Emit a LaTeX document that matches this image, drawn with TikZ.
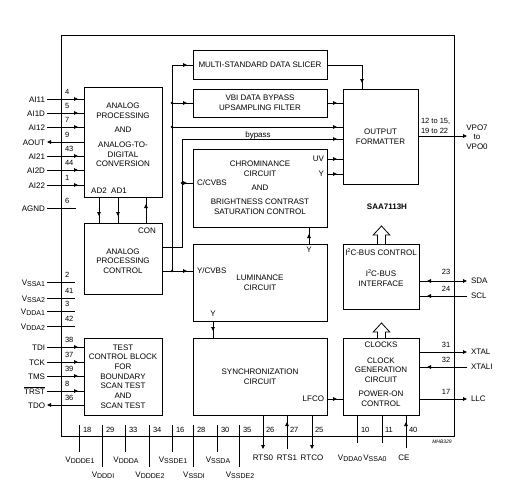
\documentclass[tikz,border=0pt]{standalone}
\usepackage{fontspec}
\setmainfont{Liberation Sans}
\usetikzlibrary{arrows.meta,decorations.markings}
\newcommand{\Vsub}[1]{V\raisebox{-0.45ex}{\fontsize{7}{7}\selectfont #1}}
\newcommand{\Itwo}{I\raisebox{0.75ex}{\fontsize{5.5}{5.5}\selectfont 2}C}
\begin{document}
\begin{tikzpicture}[x=1pt,y=-1pt,line width=0.8pt,
  every node/.style={inner sep=0pt,outer sep=0pt,font=\fontsize{8}{9.7}\selectfont},
  box/.style={draw,line width=0.8pt,align=center},
  txt/.style={align=center},
  pinnum/.style={font=\fontsize{7.5}{7.5}\selectfont,anchor=west},
  pinlab/.style={anchor=base east},
  arr/.style={postaction={decorate,decoration={markings,mark=at position #1 with {\arrow{Triangle[length=4pt,width=3.6pt]}}}}},
  arr/.default=-6pt,
  rarr/.style={postaction={decorate,decoration={markings,mark=at position #1 with {\arrowreversed{Triangle[length=4pt,width=3.6pt]}}}}},
  endarr/.style={-{Triangle[length=4pt,width=3.6pt]}},
  jdot/.style={circle,fill,inner sep=0pt,minimum size=2.6pt},
  hollow/.style={draw,line width=0.8pt,fill=white}]
\fill[white] (0,0) rectangle (506,490);
\useasboundingbox (0,0) rectangle (506,490);

% chip outline
\node[draw,minimum width=393pt,minimum height=401pt] (chip) at (257.5,235.5) {};

% blocks
\node[box,minimum width=78pt,minimum height=110pt] (adc) at (123,142) {};
\node[box,minimum width=78pt,minimum height=71pt] (apc) at (123,258.5) {};
\node[box,minimum width=78pt,minimum height=77pt] (tcb) at (123,376.5) {TEST\\CONTROL BLOCK\\FOR\\BOUNDARY\\SCAN TEST\\AND\\SCAN TEST};
\node[box,minimum width=134pt,minimum height=29pt] (slicer) at (260,65) {MULTI-STANDARD DATA SLICER};
\node[box,minimum width=134pt,minimum height=28pt] (vbi) at (260,103) {VBI DATA BYPASS\\UPSAMPLING FILTER};
\node[box,minimum width=134pt,minimum height=78pt] (chroma) at (260,188) {};
\node[box,minimum width=134pt,minimum height=77pt] (lum) at (260,282.5) {LUMINANCE\\CIRCUIT};
\node[box,minimum width=134pt,minimum height=77pt] (sync) at (260,376.5) {SYNCHRONIZATION\\CIRCUIT};
\node[box,minimum width=75pt,minimum height=95pt] (of) at (380.5,136.5) {OUTPUT\\FORMATTER};
\node[box,minimum width=76pt,minimum height=65pt] (i2c) at (381,276.5) {};
\node[box,minimum width=76pt,minimum height=77pt] (clk) at (381,376.5) {};

% texts inside blocks
\node[txt] (adct1) at (123,111) {ANALOG\\PROCESSING};
\node[txt] (adct2) at (123,130) {AND};
\node[txt] (adct3) at (123,154.5) {ANALOG-TO-\\DIGITAL\\CONVERSION};
\node[anchor=base] (ad2) at (99,193) {AD2};
\node[anchor=base] (ad1) at (119,193) {AD1};
\node[anchor=base] (con) at (147,233) {CON};
\node[txt] (apct) at (123,261) {ANALOG\\PROCESSING\\CONTROL};
\node[txt] (cht1) at (260,169) {CHROMINANCE\\CIRCUIT};
\node[txt] (cht2) at (260,188) {AND};
\node[txt] (cht3) at (260,207) {BRIGHTNESS CONTRAST\\SATURATION CONTROL};
\node[anchor=west] (ccvbs) at (197,183) {C/CVBS};
\node[anchor=east] (uv) at (324,159) {UV};
\node[anchor=east] (chy) at (324,174) {Y};
\node[anchor=west] (ycvbs) at (197,271) {Y/CVBS};
\node (lumy1) at (309,250) {Y};
\node (lumy2) at (213,314) {Y};
\node[anchor=east] (lfco) at (324,399) {LFCO};
\node[txt] (i2ct1) at (381,252) {\Itwo-BUS CONTROL};
\node[txt] (i2ct2) at (381,278) {\Itwo-BUS\\INTERFACE};
\node (clks) at (381,345) {CLOCKS};
\node[txt] (clkt1) at (381,370) {CLOCK\\GENERATION\\CIRCUIT};
\node[txt] (clkt2) at (381,399) {POWER-ON\\CONTROL};
\node[font=\fontsize{8}{8}\selectfont\bfseries] (name) at (387,207) {SAA7113H};
\node[font=\fontsize{5}{5}\selectfont\itshape] (mhb) at (442,442) {MHB329};

% hollow arrows
\draw[hollow] (377.5,244) -- (377.5,235) -- (373.2,235) -- (381.5,226) -- (389.8,235) -- (385.5,235) -- (385.5,244);
\draw[hollow] (377.5,338) -- (377.5,332) -- (373.2,332) -- (381.5,323) -- (389.8,332) -- (385.5,332) -- (385.5,338);

% internal connections
\coordinate (ad2a) at (99,197);
\coordinate (ad1a) at (118,197);
\coordinate (cona) at (146,223);
\draw[arr=-7pt] (ad2a) -- (ad2a |- apc.north);
\draw[arr=-7pt] (ad1a) -- (ad1a |- apc.north);
\draw[arr=-7pt] (cona) -- (cona |- adc.south);

\coordinate (bp0) at (182,247);
\coordinate (bp1) at (182,139);
\coordinate (cj) at (182,183);
\draw[arr] (apc.east |- bp0) -- (bp0) -- (bp1) -- (bp1 -| of.west);
\node[anchor=base] (bypass) at (258,137) {bypass};
\draw[arr] (cj) -- (cj -| chroma.west);
\node[jdot] (cjd) at (cj) {};

\coordinate (lj) at (172,271);
\coordinate (vt) at (172,65);
\coordinate (vb) at (172,103);
\coordinate (dj) at (172,127);
\draw[arr] (apc.east |- lj) -- (lj -| lum.west);
\draw (lj) -- (vt);
\draw[arr] (vt) -- (vt -| slicer.west);
\draw[arr] (vb) -- (vbi.west);
\draw[arr] (dj) -- (dj -| of.west);
\node[jdot] (ljd) at (lj) {};
\node[jdot] (vbd) at (vb) {};
\node[jdot] (djd) at (dj) {};

\coordinate (ofin) at (362,89);
\draw[arr] (slicer.east) -| (ofin);
\draw[arr] (vbi.east) -- (vbi.east -| of.west);
\coordinate (uvc) at (327,159);
\coordinate (yc) at (327,174);
\draw[arr] (uvc) -- (uvc -| of.west);
\draw[arr] (yc) -- (yc -| of.west);

\coordinate (ly1) at (309,244);
\coordinate (ly2) at (213,321);
\draw[arr=-7pt] (ly1) -- (ly1 |- chroma.south);
\draw[arr=-7pt] (ly2) -- (ly2 |- sync.north);
\coordinate (lfc) at (327,399);
\draw[arr] (lfc) -- (lfc -| clk.west);

% left pins, ADC
\foreach \n/\y/\p in {AI11/99/4,AI1D/113/5,AI12/127/7,AI21/156/43,AI2D/170/44,AI22/185/1}{
  \node[pinlab] (l\n) at (45,\y+3) {\n};
  \node[pinnum] (n\n) at (65,\y-7) {\p};
  \coordinate (p\n) at (47,\y);
  \draw[arr] (p\n) -- (p\n -| adc.west);
}
\node[pinlab] (lAOUT) at (45,145) {AOUT};
\node[pinnum] (nAOUT) at (65,135) {9};
\coordinate (pAOUT) at (47,142);
\draw[endarr] (pAOUT -| adc.west) -- (pAOUT);
\node[pinlab] (lAGND) at (45,211) {AGND};
\node[pinnum] (nAGND) at (65,201) {6};
\coordinate (pAGND) at (47,208);
\coordinate (qAGND) at (76,208);
\draw (pAGND) -- (qAGND);

% left pins, supplies
\foreach \n/\y/\p in {SSA1/282/2,SSA2/298/41,DDA1/311/3,DDA2/326/42}{
  \node[pinlab] (l\n) at (45,\y+3) {\Vsub{\n}};
  \node[pinnum] (n\n) at (65,\y-7) {\p};
  \coordinate (p\n) at (47,\y);
  \coordinate (q\n) at (75,\y);
  \draw (p\n) -- (q\n);
}

% left pins, test
\foreach \n/\y/\p in {TDI/347/38,TCK/362/37,TMS/376/39}{
  \node[pinlab] (l\n) at (45,\y+3) {\n};
  \node[pinnum] (n\n) at (65,\y-7) {\p};
  \coordinate (p\n) at (47,\y);
  \draw[arr] (p\n) -- (p\n -| tcb.west);
}
\node[pinlab] (lTRST) at (45,394) {$\overline{\mbox{TRST}}$};
\node[pinnum] (nTRST) at (65,384) {8};
\coordinate (pTRST) at (47,391);
\draw[arr] (pTRST) -- (pTRST -| tcb.west);
\node[pinlab] (lTDO) at (45,408) {TDO};
\node[pinnum] (nTDO) at (65,398) {36};
\coordinate (pTDO) at (47,405);
\draw[endarr] (pTDO -| tcb.west) -- (pTDO);

% right pins
\coordinate (pVPO) at (467,136);
\draw[endarr] (of.east |- pVPO) -- (pVPO);
\node[anchor=west,font=\fontsize{7.5}{7.5}\selectfont] (vn1) at (421,121) {12 to 15,};
\node[anchor=west,font=\fontsize{7.5}{7.5}\selectfont] (vn2) at (421,131) {19 to 22};
\node[txt] (lVPO) at (477,137) {VPO7\\to\\VPO0};

\coordinate (pSDA) at (467,281);
\draw[endarr,rarr=8pt] (i2c.east |- pSDA) -- (pSDA);
\node[anchor=west] (lSDA) at (471,281) {SDA};
\node[pinnum,anchor=center] (nSDA) at (446,272) {23};
\coordinate (pSCL) at (467,296);
\draw[arr=-8pt] (pSCL) -- (pSCL -| i2c.east);
\node[anchor=west] (lSCL) at (471,296) {SCL};
\node[pinnum,anchor=center] (nSCL) at (446,289) {24};

\coordinate (pXTAL) at (467,352);
\draw[endarr] (clk.east |- pXTAL) -- (pXTAL);
\node[anchor=west] (lXTAL) at (471,352) {XTAL};
\node[pinnum,anchor=center] (nXTAL) at (446,345) {31};
\coordinate (pXTALI) at (467,367);
\draw[arr=-8pt] (pXTALI) -- (pXTALI -| clk.east);
\node[anchor=west] (lXTALI) at (471,367) {XTALI};
\node[pinnum,anchor=center] (nXTALI) at (446,360) {32};
\coordinate (pLLC) at (467,399);
\draw[endarr] (clk.east |- pLLC) -- (pLLC);
\node[anchor=west] (lLLC) at (471,399) {LLC};
\node[pinnum,anchor=center] (nLLC) at (446,392) {17};

% bottom pins, digital supplies
\foreach \x/\p/\s/\ly/\le in {79/18/DDDE1/462/452,102/29/DDDI/477/467,125/33/DDDA/462/452,149/34/DDDE2/477/467,172/16/SSDE1/462/452,193/28/SSDI/477/467,217/30/SSDA/462/452,239/35/SSDE2/477/467}{
  \coordinate (t\s) at (\x,425);
  \coordinate (b\s) at (\x,\le);
  \draw (t\s) -- (b\s);
  \node[anchor=base] (l\s) at (\x+1,\ly) {\Vsub{\s}};
  \node[pinnum] (n\s) at (\x+4,430) {\p};
}

% bottom pins, sync
\coordinate (pRTS0) at (263,449);
\coordinate (pRTS1) at (287,449);
\coordinate (pRTCO) at (312,449);
\draw[endarr] (pRTS0 |- sync.south) -- (pRTS0);
\draw[arr=-7pt] (pRTS1) -- (pRTS1 |- sync.south);
\draw[endarr] (pRTCO |- sync.south) -- (pRTCO);
\node[anchor=base] (lRTS0) at (263,460) {RTS0};
\node[anchor=base] (lRTS1) at (287,460) {RTS1};
\node[anchor=base] (lRTCO) at (312,460) {RTCO};
\node[pinnum] (nRTS0) at (266,430) {26};
\node[pinnum] (nRTS1) at (290,430) {27};
\node[pinnum] (nRTCO) at (315,430) {25};

% bottom pins, clock block
\coordinate (pVDDA0) at (357,443);
\coordinate (pVSSA0) at (382,443);
\coordinate (pCE) at (406,448);
\draw (pVDDA0 |- clk.south) -- (pVDDA0);
\draw (pVSSA0 |- clk.south) -- (pVSSA0);
\draw[arr=-7pt] (pCE) -- (pCE |- clk.south);
\node[anchor=base] (lVDDA0) at (350,460) {\Vsub{DDA0}};
\node[anchor=base] (lVSSA0) at (375,460) {\Vsub{SSA0}};
\node[anchor=base] (lCE) at (404,460) {CE};
\node[pinnum] (nVDDA0) at (361,430) {10};
\node[pinnum] (nVSSA0) at (385,430) {11};
\node[pinnum] (nCE) at (409,430) {40};
\end{tikzpicture}
\end{document}
